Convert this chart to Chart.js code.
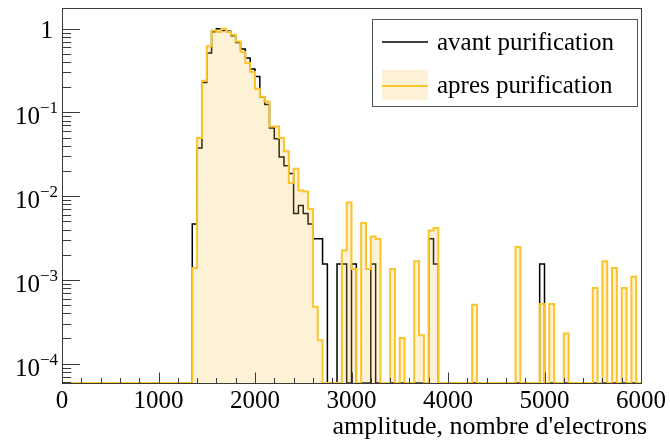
<!DOCTYPE html>
<html>
<head>
<meta charset="utf-8">
<script src="https://cdn.jsdelivr.net/npm/chart.js@4.4.0/dist/chart.umd.min.js"></script>
<style>
  html, body { margin: 0; padding: 0; background: #fff; }
  #wrap { width: 670px; height: 441px; }
</style>
</head>
<body>
<div id="wrap"><canvas id="chart" width="670" height="441"></canvas></div>
<script>
// histogram: 120 bins of 50 electrons, 0 -> 6000
const binWidth = 50;

const avant = [
  0, 0, 0, 0, 0, 0, 0, 0, 0, 0,
  0, 0, 0, 0, 0, 0, 0, 0, 0, 0,
  0, 0, 0, 0, 0, 0, 0, 0.00465, 0.0376, 0.227,
  0.513, 0.92, 1.0, 0.954, 0.929, 0.825, 0.686, 0.572, 0.447, 0.330,
  0.269, 0.153, 0.124, 0.0652, 0.0486, 0.0294, 0.0231, 0.0186, 0.0062, 0.00775,
  0.0062, 0.00465, 0.0031, 0.0031, 0.00155, 0, 0, 0.00155, 0.00155, 0,
  0.00155, 0, 0, 0, 0.00155, 0, 0, 0, 0, 0,
  0, 0, 0, 0, 0, 0, 0.0031, 0.00155, 0, 0,
  0, 0, 0, 0, 0, 0, 0, 0, 0, 0,
  0, 0, 0, 0, 0, 0, 0, 0, 0, 0.00155,
  0, 0, 0, 0, 0, 0, 0, 0, 0, 0,
  0, 0, 0, 0, 0, 0, 0, 0, 0, 0
];

const apres = [
  0, 0, 0, 0, 0, 0, 0, 0, 0, 0,
  0, 0, 0, 0, 0, 0, 0, 0, 0, 0,
  0, 0, 0, 0, 0, 0, 0, 0.00139, 0.0495, 0.239,
  0.615, 0.954, 0.913, 1.0, 0.913, 0.848, 0.705, 0.527, 0.390, 0.304,
  0.192, 0.154, 0.1355, 0.0681, 0.0681, 0.0495, 0.0343, 0.0144, 0.0213, 0.0117,
  0.0114, 0.00704, 0.00048, 0.00019, 0, 0, 0, 0, 0.00224, 0.00843,
  0.00135, 0, 0.00479, 0.00135, 0.00331, 0.00308, 0, 0, 0.00135, 0,
  0.000203, 0, 0, 0.00167, 0.000218, 0, 0.0039, 0.00417, 0, 0,
  0, 0, 0, 0, 0, 0.000506, 0, 0, 0, 0,
  0, 0, 0, 0, 0.00247, 0, 0, 0, 0, 0.000516,
  0, 0.000516, 0, 0, 0.00023, 0, 0, 0, 0, 0,
  0.0008, 0, 0.00167, 0, 0.00139, 0, 0.0008, 0, 0.00109, 0
];

const xTicks = [0, 1000, 2000, 3000, 4000, 5000, 6000];
const yDecades = [1, 0.1, 0.01, 0.001, 0.0001];
const yExponents = ['', '\u22121', '\u22122', '\u22123', '\u22124'];
const seriesNames = ['avant purification', 'apres purification'];
const xTitle = "amplitude, nombre d'electrons";

const yMin = 5.88e-5;
const yMax = 1.766;
const xMax = 6000;

const orange = '#fcc42b';
const orangeFill = 'rgba(250, 196, 70, 0.22)';
const serif = '"Liberation Serif", "DejaVu Serif", serif';

// bin contents -> step outline points (empty bins sit on the axis floor)
function steps(vals) {
  const pts = vals.map((v, i) => ({ x: i * binWidth, y: v > 0 ? v : yMin }));
  const last = vals[vals.length - 1];
  pts.push({ x: vals.length * binWidth, y: last > 0 ? last : yMin });
  return pts;
}

const rootAxes = {
  id: 'rootAxes',
  afterDraw(chart) {
    const { ctx, chartArea: a, scales: { x, y } } = chart;
    const L = Math.round(a.left) + 0.5, R = Math.round(a.right) + 0.5;
    const T = Math.round(a.top) + 0.5, B = Math.round(a.bottom) + 0.5;
    ctx.save();
    ctx.strokeStyle = '#3a3a3a';
    ctx.lineWidth = 1;
    ctx.strokeRect(L, T, R - L, B - T);

    // x ticks, drawn inward
    ctx.beginPath();
    for (let v = 0; v <= xMax; v += 200) {
      const px = Math.round(x.getPixelForValue(v)) + 0.5;
      const len = v % 1000 === 0 ? 11 : 5.5;
      ctx.moveTo(px, B); ctx.lineTo(px, B - len);
    }
    // y ticks
    for (let d = 0.00001; d <= 1.01; d *= 10) {
      for (let m = 1; m <= 9; m++) {
        const v = m * d;
        if (v < yMin || v > yMax) continue;
        const py = Math.round(y.getPixelForValue(v)) + 0.5;
        const len = m === 1 ? 17.5 : 8.7;
        ctx.moveTo(L, py); ctx.lineTo(L + len, py);
      }
    }
    ctx.stroke();

    // labels
    ctx.fillStyle = '#000';
    ctx.font = '25px ' + serif;
    ctx.textAlign = 'center';
    ctx.textBaseline = 'alphabetic';
    xTicks.forEach(v => ctx.fillText(String(v), x.getPixelForValue(v), 408));

    yDecades.forEach((d, i) => {
      const py = y.getPixelForValue(d);
      if (!yExponents[i]) {
        ctx.font = '25px ' + serif;
        ctx.textAlign = 'right';
        ctx.fillText('1', 53, py + 9);
        return;
      }
      ctx.font = '17px ' + serif;
      const ew = ctx.measureText(yExponents[i]).width;
      ctx.textAlign = 'left';
      ctx.fillText(yExponents[i], 58 - ew, py + 1);
      ctx.font = '25px ' + serif;
      ctx.textAlign = 'right';
      ctx.fillText('10', 58 - ew, py + 12);
    });

    ctx.font = '26px ' + serif;
    ctx.textAlign = 'right';
    ctx.fillText(xTitle, 647, 434);

    // legend box
    ctx.fillStyle = '#fff';
    ctx.fillRect(372.5, 19.5, 265, 87);
    ctx.strokeStyle = '#555';
    ctx.strokeRect(372.5, 19.5, 265, 87);

    ctx.strokeStyle = '#000';
    ctx.lineWidth = 1.5;
    ctx.beginPath(); ctx.moveTo(382, 42); ctx.lineTo(428, 42); ctx.stroke();

    ctx.fillStyle = orangeFill;
    ctx.fillRect(382, 70, 46, 30);
    ctx.strokeStyle = orange;
    ctx.lineWidth = 2;
    ctx.beginPath(); ctx.moveTo(382, 86); ctx.lineTo(428, 86); ctx.stroke();

    ctx.fillStyle = '#000';
    ctx.font = '25px ' + serif;
    ctx.textAlign = 'left';
    ctx.textBaseline = 'middle';
    ctx.fillText(seriesNames[0], 437, 43);
    ctx.fillText(seriesNames[1], 437, 86);
    ctx.restore();
  }
};

new Chart(document.getElementById('chart'), {
  type: 'line',
  data: {
    datasets: [
      {
        label: seriesNames[0],
        data: steps(avant),
        stepped: 'before',
        borderColor: '#000',
        borderWidth: 1.5,
        pointRadius: 0,
        fill: false,
        order: 1
      },
      {
        label: seriesNames[1],
        data: steps(apres),
        stepped: 'before',
        borderColor: orange,
        borderWidth: 2,
        backgroundColor: orangeFill,
        pointRadius: 0,
        fill: 'start',
        order: 0
      }
    ]
  },
  options: {
    responsive: false,
    animation: false,
    devicePixelRatio: 1,
    layout: { padding: { left: 62, right: 29, top: 8, bottom: 58 } },
    scales: {
      x: { type: 'linear', min: 0, max: xMax, display: false },
      y: { type: 'logarithmic', min: yMin, max: yMax, display: false }
    },
    plugins: {
      legend: { display: false },
      tooltip: { enabled: false }
    }
  },
  plugins: [rootAxes]
});
</script>
</body>
</html>
